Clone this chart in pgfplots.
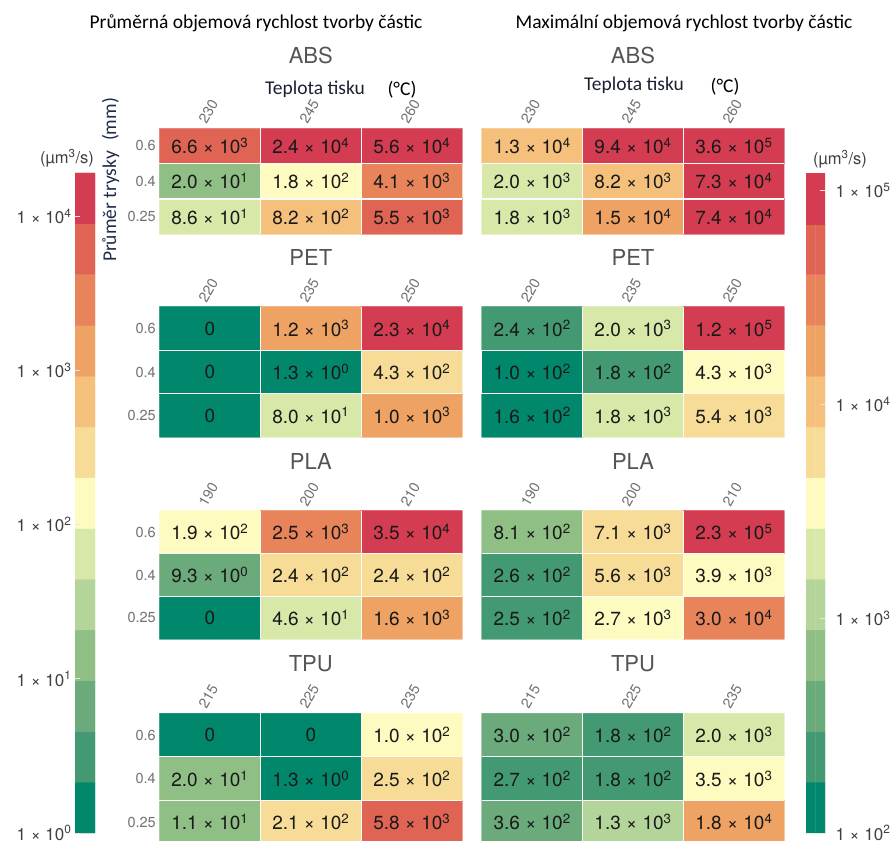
\documentclass[border=0pt]{standalone}
\usepackage{pgfplots}
\pgfplotsset{compat=1.18}
\usepackage{pgfplotstable}
\usepackage{fontspec}
\setmainfont{TeX Gyre Heros}
\newfontfamily\calibri{Carlito}

\definecolor{navy}{HTML}{1F2D4A}
\definecolor{dk}{HTML}{1A2030}
\definecolor{ttl}{HTML}{555555}
\definecolor{tck}{HTML}{727272}
\definecolor{cbt}{HTML}{404040}

\newcommand\fs[1]{\fontsize{#1}{#1}\selectfont}
\def\zerostr{0}
\newcommand\cellnum[1]{\edef\tmpv{#1}\ifx\tmpv\zerostr 0\else\pgfmathprintnumber[sci,sci zerofill,precision=1,assume math mode=true,sci generic={mantissa sep={\ ×\ },exponent={10\textsuperscript{##1}}}]{\tmpv}\fi}

% 13 steps green -> yellow -> red
\pgfplotsset{colormap={rdyg}{
  rgb255=(0,135,108) rgb255=(67,154,114) rgb255=(106,170,123) rgb255=(143,191,133)
  rgb255=(180,213,154) rgb255=(216,232,169) rgb255=(254,251,192) rgb255=(247,220,152)
  rgb255=(244,192,123) rgb255=(238,162,99) rgb255=(232,132,90) rgb255=(224,100,84)
  rgb255=(212,61,81)}}

% x: temperature index, y: nozzle (2 = 0.6, 1 = 0.4, 0 = 0.25)
\pgfplotstableread{
x y avg mx
0 2 6.6e3 1.3e4
1 2 2.4e4 9.4e4
2 2 5.6e4 3.6e5
0 1 2.0e1 2.0e3
1 1 1.8e2 8.2e3
2 1 4.1e3 7.3e4
0 0 8.6e1 1.8e3
1 0 8.2e2 1.5e4
2 0 5.5e3 7.4e4
}\tabABS
\pgfplotstableread{
x y avg mx
0 2 0 2.4e2
1 2 1.2e3 2.0e3
2 2 2.3e4 1.2e5
0 1 0 1.0e2
1 1 1.3e0 1.8e2
2 1 4.3e2 4.3e3
0 0 0 1.6e2
1 0 8.0e1 1.8e3
2 0 1.0e3 5.4e3
}\tabPET
\pgfplotstableread{
x y avg mx
0 2 1.9e2 8.1e2
1 2 2.5e3 7.1e3
2 2 3.5e4 2.3e5
0 1 9.3e0 2.6e2
1 1 2.4e2 5.6e3
2 1 2.4e2 3.9e3
0 0 0 2.5e2
1 0 4.6e1 2.7e3
2 0 1.6e3 3.0e4
}\tabPLA
\pgfplotstableread{
x y avg mx
0 2 0 3.0e2
1 2 0 1.8e2
2 2 1.0e2 2.0e3
0 1 2.0e1 2.7e2
1 1 1.3e0 1.8e2
2 1 2.5e2 3.5e3
0 0 1.1e1 3.6e2
1 0 2.1e2 1.3e3
2 0 5.8e3 1.8e4
}\tabTPU

% colour bar steps (centre of each of the 13 steps, in log10 units)
\pgfplotstableread{
x y
0 0.1646
1 0.1646
0 0.4938
1 0.4938
0 0.8231
1 0.8231
0 1.1523
1 1.1523
0 1.4815
1 1.4815
0 1.8108
1 1.8108
0 2.1400
1 2.1400
0 2.4692
1 2.4692
0 2.7985
1 2.7985
0 3.1277
1 3.1277
0 3.4569
1 3.4569
0 3.7862
1 3.7862
0 4.1154
1 4.1154
}\cbL
\pgfplotstableread{
x y
0 2.1185
1 2.1185
0 2.3554
1 2.3554
0 2.5923
1 2.5923
0 2.8292
1 2.8292
0 3.0662
1 3.0662
0 3.3031
1 3.3031
0 3.5400
1 3.5400
0 3.7769
1 3.7769
0 4.0138
1 4.0138
0 4.2508
1 4.2508
0 4.4877
1 4.4877
0 4.7246
1 4.7246
0 4.9615
1 4.9615
}\cbR

\pgfplotsset{
  hm/.style={
    scale only axis, width=303pt, anchor=south west,
    xmin=-0.5, xmax=2.5, ymin=-0.5, ymax=2.5,
    axis line style={draw=none}, major tick length=0pt, minor tick length=0pt,
    xtick={0,1,2}, ytick={0,1,2}, minor xtick={0.5,1.5}, minor ytick={0.5,1.5},
    grid=minor, minor grid style={white!96!gray, line width=1.2pt},
    axis on top,
    xticklabel pos=upper,
    xticklabel style={xshift=-3pt, yshift=3pt, rotate=60, anchor=south west, inner sep=0pt, font=\fs{14.5}, text=tck},
    yticklabel style={font=\fs{14.5}, text=tck},
    colormap name=rdyg, colormap access=piecewise constant,
    every axis title/.style={at={(0.5,1)}, anchor=center, inner sep=0pt, font=\fs{22}, text=ttl, yshift=49.5pt},
  },
  hmL/.style={hm, point meta min=0, point meta max=4.28, yticklabels={0.25,0.4,0.6}},
  hmR/.style={hm, point meta min=2, point meta max=5.08, yticklabels={}},
  cells/.style={matrix plot*, mesh/cols=3, point meta=explicit},
  labels/.style={only marks, mark=none, point meta=explicit symbolic,
    nodes near coords={\cellnum{\pgfplotspointmeta}}, nodes near coords align={center},
    every node near coord/.append style={font=\fs{19}, text=black!90, inner sep=0pt}},
  cb/.style={scale only axis, width=20pt, height=660pt, anchor=south west,
    xmin=-0.5, xmax=1.5, xtick=\empty, axis line style={draw=none}, axis on top,
    colormap name=rdyg, colormap access=piecewise constant,
    major tick length=5pt, tick align=inside, tick style={white!80!gray, line width=0.6pt},
    yticklabel style={font=\fs{17}, text=cbt}},
}

\begin{document}
\begin{tikzpicture}[x=1pt,y=1pt]
\path[use as bounding box] (0,0) rectangle (896,840);

% column titles and axis names
\node[font=\calibri\fs{19.5}] at (256,817) {Průměrná objemová rychlost tvorby částic};
\node[font=\calibri\fs{19.5}] at (684,817) {Maximální objemová rychlost tvorby částic};
\node[font=\calibri\fs{19.5}, text=dk] at (315,750.5) {Teplota tisku};
\node[font=\calibri\fs{19.5}] at (402,750.5) {(°C)};
\node[font=\calibri\fs{19.5}, text=dk] at (634,755) {Teplota tisku};
\node[font=\calibri\fs{19.5}] at (725,753) {(°C)};
\node[font=\calibri\fs{19.5}, text=navy, rotate=90, anchor=base] at (116,660) {Průměr trysky\hspace{10pt}(mm)};
\node[font=\fs{16.5}, text=cbt] at (67,682) {(µm\textsuperscript{3}/s)};
\node[font=\fs{16.5}, text=cbt] at (840,681) {(µm\textsuperscript{3}/s)};

% ABS
\begin{axis}[hmL, at={(159.3pt,605.7pt)}, height=106pt, title={ABS},
  every axis title/.append style={yshift=23.5pt}, xticklabels={230,245,260}]
\addplot[cells] table[x=x,y=y,meta expr={log10(max(\thisrow{avg},1))}] \tabABS;
\addplot[labels] table[x=x,y=y,meta=avg] \tabABS;
\end{axis}
\begin{axis}[hmR, at={(481.7pt,605.7pt)}, width=302.6pt, height=106pt, title={ABS},
  every axis title/.append style={yshift=23.5pt}, xticklabels={230,245,260}]
\addplot[cells] table[x=x,y=y,meta expr={log10(\thisrow{mx})}] \tabABS;
\addplot[labels] table[x=x,y=y,meta=mx] \tabABS;
\end{axis}

% PET
\begin{axis}[hmL, at={(159.3pt,402.7pt)}, height=130.6pt, title={PET}, xticklabels={220,235,250}]
\addplot[cells] table[x=x,y=y,meta expr={log10(max(\thisrow{avg},1))}] \tabPET;
\addplot[labels] table[x=x,y=y,meta=avg] \tabPET;
\end{axis}
\begin{axis}[hmR, at={(481.7pt,402.7pt)}, width=302.6pt, height=130.6pt, title={PET}, xticklabels={220,235,250}]
\addplot[cells] table[x=x,y=y,meta expr={log10(\thisrow{mx})}] \tabPET;
\addplot[labels] table[x=x,y=y,meta=mx] \tabPET;
\end{axis}

% PLA
\begin{axis}[hmL, at={(159.3pt,200.7pt)}, height=128.6pt, title={PLA}, xticklabels={190,200,210}]
\addplot[cells] table[x=x,y=y,meta expr={log10(max(\thisrow{avg},1))}] \tabPLA;
\addplot[labels] table[x=x,y=y,meta=avg] \tabPLA;
\end{axis}
\begin{axis}[hmR, at={(481.7pt,200.7pt)}, width=302.6pt, height=128.6pt, title={PLA}, xticklabels={190,200,210}]
\addplot[cells] table[x=x,y=y,meta expr={log10(\thisrow{mx})}] \tabPLA;
\addplot[labels] table[x=x,y=y,meta=mx] \tabPLA;
\end{axis}

% TPU
\begin{axis}[hmL, at={(159.3pt,-4pt)}, height=130.7pt, title={TPU}, xticklabels={215,225,235}]
\addplot[cells] table[x=x,y=y,meta expr={log10(max(\thisrow{avg},1))}] \tabTPU;
\addplot[labels] table[x=x,y=y,meta=avg] \tabTPU;
\end{axis}
\begin{axis}[hmR, at={(481.7pt,-4pt)}, width=302.6pt, height=130.7pt, title={TPU}, xticklabels={215,225,235}]
\addplot[cells] table[x=x,y=y,meta expr={log10(\thisrow{mx})}] \tabTPU;
\addplot[labels] table[x=x,y=y,meta=mx] \tabTPU;
\end{axis}

% colour bars
\begin{axis}[cb, at={(75pt,7pt)}, ymin=0, ymax=4.28, point meta min=0, point meta max=4.28,
  ytick={0,1,2,3,4}, ytick pos=left, yticklabel pos=left,
  yticklabels={1 × 10\textsuperscript{0},1 × 10\textsuperscript{1},1 × 10\textsuperscript{2},1 × 10\textsuperscript{3},1 × 10\textsuperscript{4}}]
\addplot[matrix plot*, mesh/cols=2, point meta=y] table[x=x,y=y] \cbL;
\end{axis}
\begin{axis}[cb, at={(806pt,7pt)}, width=19pt, ymin=2, ymax=5.08, point meta min=2, point meta max=5.08,
  ytick={2,3,4,5}, ytick pos=right, yticklabel pos=right,
  yticklabel style={xshift=7pt},
  yticklabels={1 × 10\textsuperscript{2},1 × 10\textsuperscript{3},1 × 10\textsuperscript{4},1 × 10\textsuperscript{5}}]
\addplot[matrix plot*, mesh/cols=2, point meta=y] table[x=x,y=y] \cbR;
\end{axis}
\end{tikzpicture}
\end{document}
